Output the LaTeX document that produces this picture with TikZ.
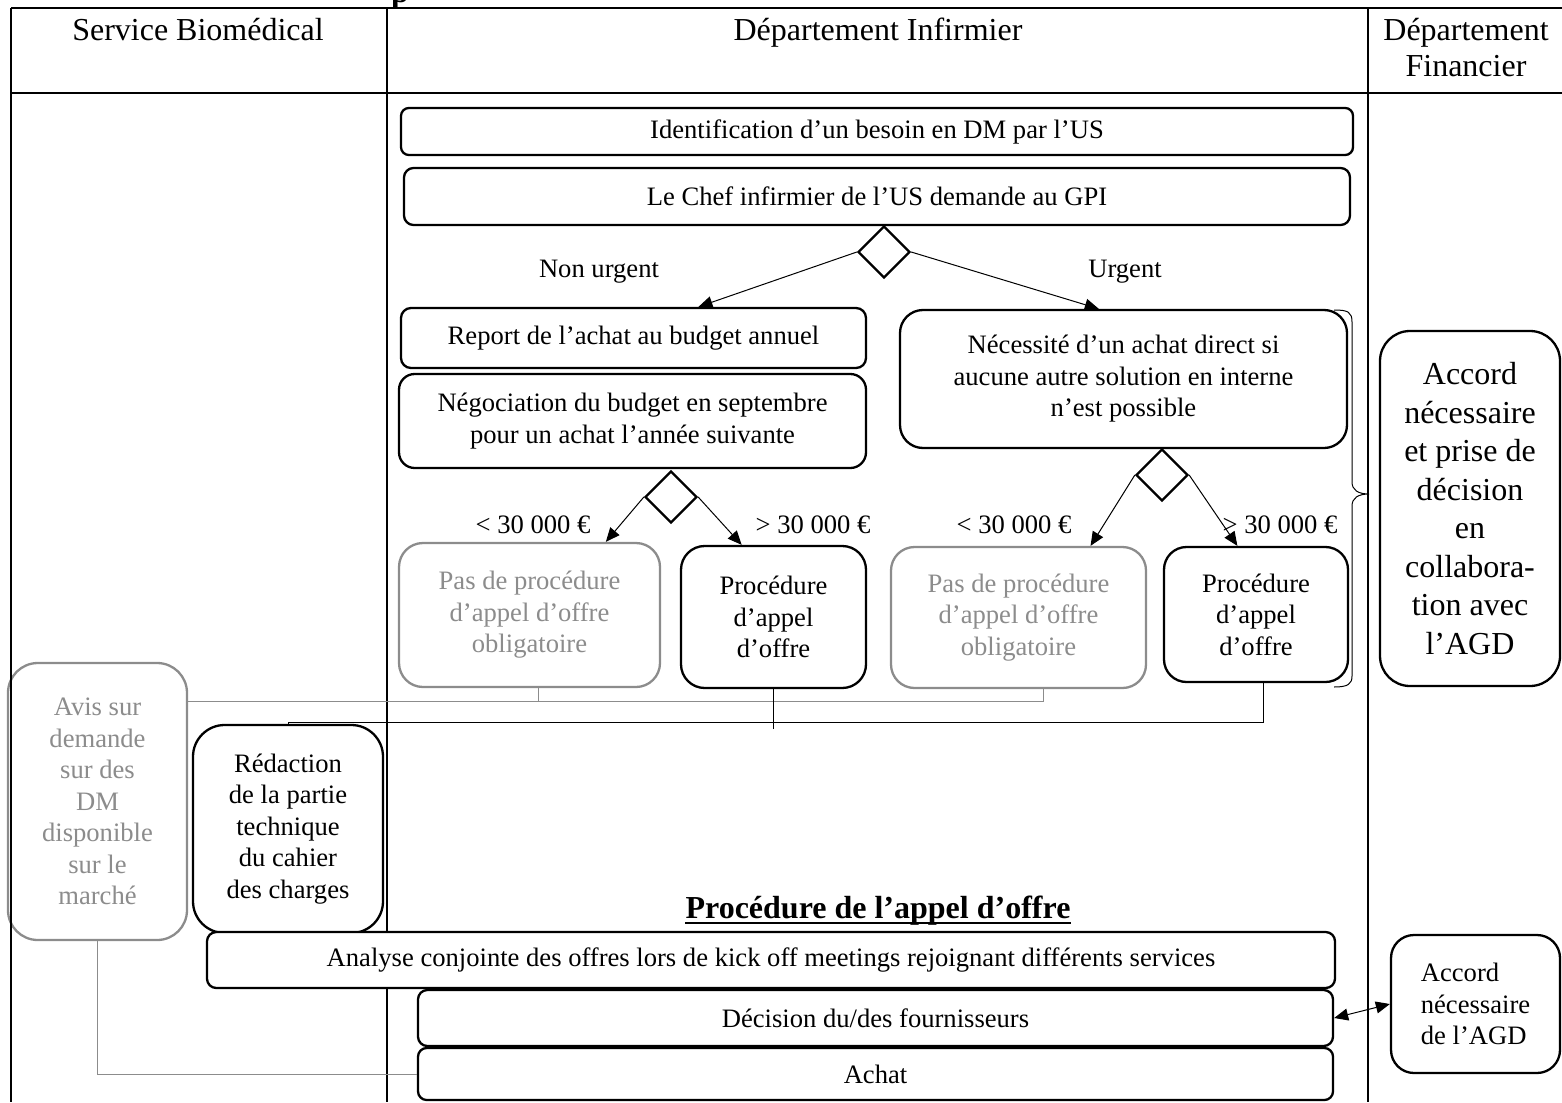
\documentclass[tikz,border=0pt]{standalone}
\usepackage{fontspec}
\setmainfont{Liberation Serif}
\usetikzlibrary{shapes.geometric,arrows.meta,calc}

\definecolor{fadegray}{RGB}{140,140,140}

% Rounded process box given by its corners (x1,y1)-(x2,y2);
% corner radius follows the shorter side.
\newcommand\flowbox[7][]{%
  \pgfmathsetmacro\boxr{min(#5-#3,#6-#4)/12}%
  \node[flow,rounded corners=\boxr pt,#1,
        minimum width={(#5-#3)*0.5pt}, minimum height={(#6-#4)*0.5pt}]
        (#2) at ({(#3+#5)/2},{(#4+#6)/2}) {#7};}

\tikzset{
  body/.style={font=\fontsize{13.3}{15.75}\selectfont},
  flow/.style={draw, line width=1.15pt, fill=white, align=center, inner sep=0pt, body},
  faint/.style={draw=fadegray, text=fadegray},
  decide/.style={diamond, draw, line width=1.15pt, fill=white,
                 minimum width=26pt, minimum height=26pt, inner sep=0pt},
  link/.style={line width=0.5pt},
  arr/.style={link, -{Triangle[length=7pt,width=6pt]}},
  dblarr/.style={link, {Triangle[length=7pt,width=6pt]}-{Triangle[length=7pt,width=6pt]}},
  glink/.style={link, draw=fadegray},
  grid/.style={line width=1pt},
  head/.style={font=\fontsize{16}{18}\selectfont, align=center, inner sep=0pt, anchor=base},
  cond/.style={body, inner sep=0pt, anchor=base},
}

\begin{document}
\begin{tikzpicture}[x=0.5pt,y=-0.5pt]
\useasboundingbox (0,0) rectangle (1562,1102);
\begin{scope}
\clip (0,0) rectangle (1562,1102);

% swimlane table
\draw[grid] (11,8) -- (1562,8);
\draw[grid] (11,93) -- (1562,93);
\draw[grid] (387,8) -- (387,1102);
\draw[grid] (1368,8) -- (1368,1102);

% title above the table
\node[font=\bfseries\fontsize{16}{18}\selectfont, anchor=base, inner sep=0pt] (title) at (400,3) {p};

% lane headers
\node[head] (hbio) at (198,41) {Service Biomédical};
\node[head] (hinf) at (878,41) {Département Infirmier};
\node[head] (hfin) at (1466,41) {Département};
\node[head] (hfin2) at (1466,77) {Financier};

% nursing department
\flowbox{ident}{401}{108}{1353}{155}{Identification d’un besoin en DM par l’US}
\flowbox{chef}{404}{168}{1350}{225}{Le Chef infirmier de l’US demande au GPI}
\node[decide] (d1) at (884,252) {};
\node[cond] (lnu) at (599,277) {Non urgent};
\node[cond] (lu) at (1125,277) {Urgent};

\flowbox{report}{401}{308}{866}{368}{Report de l’achat au budget annuel}
\flowbox{nego}{399}{374}{866}{468}{Négociation du budget en septembre\\pour un achat l’année suivante}
\flowbox{need}{900}{310}{1347}{448}{Nécessité d’un achat direct si\\aucune autre solution en interne\\n’est possible}

\node[decide] (d2) at (671,497) {};
\node[decide] (d3) at (1162,475) {};
\node[cond] (l1) at (533,533) {< 30 000 €};
\node[cond] (l2) at (813,533) {> 30 000 €};
\node[cond] (l3) at (1014,533) {< 30 000 €};
\node[cond] (l4) at (1280,533) {> 30 000 €};

\flowbox[faint]{nop1}{399}{543}{660}{687}{Pas de procédure\\d’appel d’offre\\obligatoire}
\flowbox{ao1}{681}{546}{866}{688}{Procédure\\d’appel\\d’offre}
\flowbox[faint]{nop2}{891}{547}{1146}{688}{Pas de procédure\\d’appel d’offre\\obligatoire}
\flowbox{ao2}{1164}{547}{1348}{682}{Procédure\\d’appel\\d’offre}

% brace grouping the urgent branch
\draw[link] (1334,310) .. controls (1348,310) and (1352,312) .. (1352,322)
  -- (1352,482) .. controls (1352,490) and (1358,494) .. (1369,494)
  .. controls (1358,494) and (1352,498) .. (1352,506)
  -- (1352,676) .. controls (1352,684) and (1348,687) .. (1334,687);

% financial department
\flowbox[font=\fontsize{16}{19.25}\selectfont]{agree}{1380}{331}{1560}{686}{Accord\\nécessaire\\et prise de\\décision\\en\\collabora-\\tion avec\\l’AGD}

% biomedical service
\flowbox[faint]{avis}{8}{663}{187}{940}{Avis sur\\demande\\sur des\\DM\\disponible\\sur le\\marché}
\flowbox{redac}{193}{725}{383}{933}{Rédaction\\de la partie\\technique\\du cahier\\des charges}

% tender procedure
\node[font=\bfseries\fontsize{16}{18}\selectfont, inner sep=0pt, anchor=base] (aotitle) at (878,918) {Procédure de l’appel d’offre};
\draw[line width=1.1pt] ([yshift=-2.4pt]aotitle.base west) -- ([yshift=-2.4pt]aotitle.base east);
\flowbox{analyse}{207}{932}{1335}{988}{Analyse conjointe des offres lors de kick off meetings rejoignant différents services}
\flowbox{decis}{418}{990}{1333}{1046}{Décision du/des fournisseurs}
\flowbox{achat}{418}{1048}{1333}{1100}{Achat}
\flowbox[align=left]{agd}{1391}{935}{1560}{1073}{Accord\\nécessaire\\de l’AGD}

% left border of the table
\draw[grid] (11,8) -- (11,1102);

% decision branches
\draw[arr] (d1.west) -- ($(report.north west)!0.639!(report.north east)$);
\draw[arr] (d1.east) -- ($(need.north west)!0.445!(need.north east)$);
\draw[arr] (d2.west) -- ($(nop1.north west)!0.79!(nop1.north east)$);
\draw[arr] (d2.east) -- ($(ao1.north west)!0.33!(ao1.north east)$);
\draw[arr] (d3.west) -- ($(nop2.north west)!0.78!(nop2.north east)$);
\draw[arr] (d3.east) -- ($(ao2.north west)!0.40!(ao2.north east)$);

% joins towards the biomedical service
\coordinate (grow) at (0,701);
\coordinate (brow) at (0,722);
\coordinate (n1s) at ($(nop1.south west)!0.536!(nop1.south east)$);
\coordinate (n2s) at ($(nop2.south west)!0.596!(nop2.south east)$);
\coordinate (a2s) at ($(ao2.south west)!0.54!(ao2.south east)$);
\draw[glink] (n2s) |- (avis.east |- grow);
\draw[glink] (n1s) -- (n1s |- grow);
\draw[link] (redac.north) |- (a2s |- brow) -- (a2s);
\draw[link] (ao1.south) -- ++(0,40);
\draw[glink] (avis.south) |- (achat.west);

% supplier decision needs the AGD agreement
\draw[dblarr] (decis.east) -- (agd.west);
\end{scope}
\end{tikzpicture}
\end{document}
